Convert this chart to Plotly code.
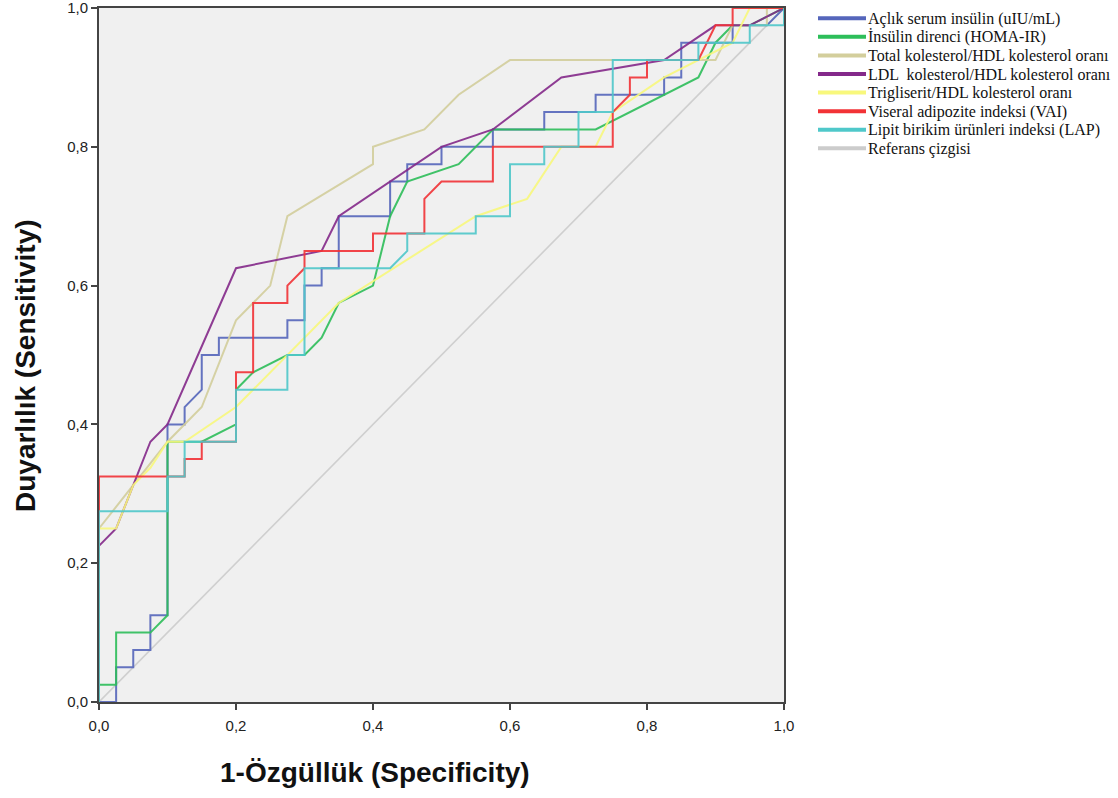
import plotly.graph_objects as go

# ROC curve points (1-specificity, sensitivity)
aclik_insulin = [(0,0),(0.025,0),(0.025,0.05),(0.05,0.05),(0.05,0.075),(0.075,0.075),(0.075,0.125),
    (0.1,0.125),(0.1,0.4),(0.125,0.4),(0.125,0.425),(0.15,0.45),(0.15,0.5),(0.175,0.5),(0.175,0.525),
    (0.275,0.525),(0.275,0.55),(0.3,0.55),(0.3,0.6),(0.325,0.6),(0.325,0.625),(0.35,0.625),(0.35,0.7),
    (0.425,0.7),(0.425,0.75),(0.45,0.75),(0.45,0.775),(0.5,0.775),(0.5,0.8),(0.575,0.8),(0.575,0.825),
    (0.65,0.825),(0.65,0.85),(0.725,0.85),(0.725,0.875),(0.825,0.875),(0.825,0.9),(0.85,0.9),(0.85,0.95),
    (0.925,0.95),(0.925,0.975),(0.975,0.975),(1,1)]
homa_ir = [(0,0),(0,0.025),(0.025,0.025),(0.025,0.1),(0.075,0.1),(0.1,0.125),(0.1,0.375),(0.15,0.375),
    (0.2,0.4),(0.2,0.45),(0.225,0.475),(0.275,0.5),(0.3,0.5),(0.325,0.525),(0.35,0.575),(0.4,0.6),
    (0.425,0.7),(0.45,0.75),(0.525,0.775),(0.575,0.825),(0.725,0.825),(0.875,0.9),(0.9,0.95),
    (0.925,0.975),(0.95,0.975),(1,1)]
total_hdl = [(0,0),(0,0.25),(0.1,0.375),(0.15,0.425),(0.2,0.55),(0.25,0.6),(0.275,0.7),(0.4,0.775),
    (0.4,0.8),(0.475,0.825),(0.525,0.875),(0.6,0.925),(0.9,0.925),(0.925,0.975),(0.975,0.975),
    (0.975,1),(1,1)]
ldl_hdl = [(0,0),(0,0.225),(0.025,0.25),(0.075,0.375),(0.1,0.4),(0.2,0.625),(0.325,0.65),(0.35,0.7),
    (0.5,0.8),(0.575,0.825),(0.675,0.9),(0.825,0.925),(0.9,0.975),(0.95,0.975),(1,1)]
tg_hdl = [(0,0),(0,0.25),(0.025,0.25),(0.05,0.3125),(0.075,0.3375),(0.1,0.375),(0.125,0.375),
    (0.2,0.425),(0.35,0.575),(0.55,0.7),(0.625,0.725),(0.675,0.8),(0.725,0.8),(0.75,0.85),
    (0.825,0.9),(0.875,0.925),(0.925,0.95),(0.95,1),(1,1)]
vai = [(0,0),(0,0.325),(0.125,0.325),(0.125,0.35),(0.15,0.35),(0.15,0.375),(0.2,0.375),(0.2,0.475),
    (0.225,0.475),(0.225,0.575),(0.275,0.575),(0.275,0.6),(0.3,0.625),(0.3,0.65),(0.4,0.65),(0.4,0.675),
    (0.475,0.675),(0.475,0.725),(0.5,0.75),(0.575,0.75),(0.575,0.8),(0.75,0.8),(0.75,0.85),(0.775,0.875),
    (0.775,0.9),(0.8,0.9),(0.8,0.925),(0.875,0.925),(0.9,0.975),(0.925,0.975),(0.925,1),(1,1)]
lap = [(0,0),(0,0.275),(0.1,0.275),(0.1,0.325),(0.125,0.325),(0.125,0.375),(0.2,0.375),(0.2,0.45),
    (0.275,0.45),(0.275,0.5),(0.3,0.5),(0.3,0.625),(0.425,0.625),(0.45,0.65),(0.45,0.675),(0.55,0.675),
    (0.55,0.7),(0.6,0.7),(0.6,0.775),(0.65,0.775),(0.65,0.8),(0.7,0.8),(0.7,0.85),(0.75,0.85),
    (0.75,0.925),(0.875,0.925),(0.875,0.95),(0.95,0.95),(0.95,0.975),(1,0.975),(1,1)]
reference = [(0,0),(1,1)]

series_names = ["Açlık serum insülin (uIU/mL)", "İnsülin direnci (HOMA-IR)",
                "Total kolesterol/HDL kolesterol oranı", "LDL  kolesterol/HDL kolesterol oranı",
                "Trigliserit/HDL kolesterol oranı", "Viseral adipozite indeksi (VAI)",
                "Lipit birikim ürünleri indeksi (LAP)", "Referans çizgisi"]
series_data = [aclik_insulin, homa_ir, total_hdl, ldl_hdl, tg_hdl, vai, lap, reference]
series_colors = ["#5566BB", "#2DBE5A", "#D3CE9C", "#84298A", "#F8F87C", "#F23236", "#4FC8CA", "#CCCCCC"]

tick_vals = [0, 0.2, 0.4, 0.6, 0.8, 1.0]

# pixel geometry of the plotting area (page coordinates)
PL, PR, PT, PB = 99, 784, 8, 702
def px_to_paper_x(px):
    return (px - PL) / (PR - PL)
def py_to_paper_y(py):
    return (PB - py) / (PB - PT)

fig = go.Figure()
order = [7, 0, 1, 2, 3, 4, 5, 6]
for i in order:
    pts = series_data[i]
    fig.add_trace(go.Scatter(
        x=[p[0] for p in pts], y=[p[1] for p in pts], mode="lines", name=series_names[i],
        line=dict(color=series_colors[i], width=2 if i != 7 else 1.6),
        opacity=0.9, showlegend=False, hoverinfo="skip"))

# legend drawn as line samples + text (tight SPSS-style spacing)
shapes, annotations = [], []
for i, (name, col) in enumerate(zip(series_names, series_colors)):
    yc = 18.3 + 18.57 * i
    shapes.append(dict(type="line", xref="paper", yref="paper",
                       x0=px_to_paper_x(818), x1=px_to_paper_x(866),
                       y0=py_to_paper_y(yc), y1=py_to_paper_y(yc),
                       line=dict(color=col, width=4)))
    annotations.append(dict(text=name, xref="paper", yref="paper",
                            x=px_to_paper_x(866), y=py_to_paper_y(yc + 0.5),
                            xanchor="left", yanchor="middle", showarrow=False,
                            font=dict(family="Liberation Serif, Times New Roman", size=16,
                                      color="#111111")))

annotations += [
    dict(text="<b>1-Özgüllük (Specificity)</b>", xref="paper", yref="paper",
         x=px_to_paper_x(375), y=py_to_paper_y(773), xanchor="center", yanchor="middle",
         showarrow=False, font=dict(family="Liberation Sans, Arial", size=28, color="#111111")),
    dict(text="<b>Duyarlılık (Sensitivity)</b>", xref="paper", yref="paper",
         x=px_to_paper_x(26), y=py_to_paper_y(366), xanchor="center", yanchor="middle",
         textangle=-90, showarrow=False,
         font=dict(family="Liberation Sans, Arial", size=28, color="#111111")),
]

axis_common = dict(range=[0, 1], tickvals=tick_vals, tickformat=".1f", showgrid=False,
                   zeroline=False, showline=True, linecolor="#444444", linewidth=2,
                   mirror=True, ticks="outside", ticklen=6, tickwidth=2, tickcolor="#444444",
                   ticklabeloverflow="allow",
                   tickfont=dict(family="Liberation Sans, Arial", size=15, color="#222222"))

fig.update_layout(
    width=1118, height=798,
    margin=dict(l=PL, r=1118 - PR, t=PT, b=798 - PB, autoexpand=False),
    paper_bgcolor="white", plot_bgcolor="#F0F0F0",
    separators=",.",
    showlegend=False,
    xaxis=dict(**axis_common, ticklabelstandoff=3),
    yaxis=dict(**axis_common),
    shapes=shapes,
    annotations=annotations,
)

fig.write_html("out.html", config={"displayModeBar": False},
               post_script="document.body.style.margin='0px';")
